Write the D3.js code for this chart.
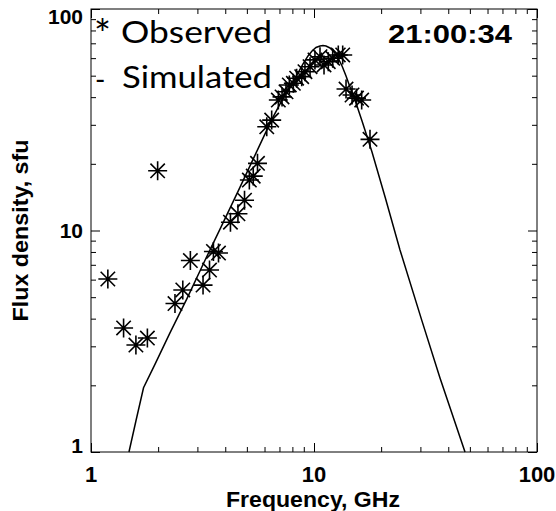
<!DOCTYPE html>
<html>
<head>
<meta charset="utf-8">
<script src="https://cdn.jsdelivr.net/npm/d3@7"></script>
<style>
  html, body { margin: 0; padding: 0; background: #fff; }
  svg { display: block; }
</style>
</head>
<body>
<script>
// Observed radio spectrum (frequency in GHz, flux density in sfu)
const obsFreq = [1.19, 1.40, 1.59, 1.79, 1.99, 2.38, 2.58, 2.79, 3.18, 3.40, 3.54, 3.73,
  4.22, 4.56, 4.88, 5.13, 5.34, 5.58, 6.14, 6.46, 6.92, 7.19, 7.49, 7.75, 8.08, 8.36,
  8.81, 9.11, 9.60, 10.10, 10.64, 11.09, 11.59, 12.13, 12.85, 13.45, 13.92, 14.81,
  15.51, 16.36, 17.83];
const obsFlux = [6.04, 3.63, 3.04, 3.27, 18.6, 4.68, 5.39, 7.32, 5.67, 6.63, 8.04, 7.91,
  10.9, 11.9, 13.7, 16.9, 17.6, 20.1, 29.4, 31.5, 38.8, 40.1, 42.3, 45.4, 46.2, 48.7,
  49.5, 52.1, 54.9, 58.9, 60.9, 55.9, 57.8, 59.9, 62.0, 62.0, 43.5, 40.9,
  39.6, 38.8, 25.8];

// Simulated gyrosynchrotron spectrum
const simFreq = [1.48, 1.59, 1.72, 1.94, 2.26, 2.69, 3.25, 3.87, 4.66, 5.44, 6.03, 6.55,
  7.19, 7.81, 8.39, 8.93, 9.40, 9.80, 10.21, 10.64, 10.97, 11.32, 11.80, 12.29, 12.81,
  13.36, 13.92, 14.50, 15.27, 16.42, 18.20, 20.82, 24.30, 30.41, 36.73, 47.55];
const simFlux = [1.00, 1.38, 1.95, 2.50, 3.45, 4.91, 7.36, 10.6, 15.7, 21.9, 27.3, 32.5,
  38.8, 44.5, 50.4, 56.5, 61.4, 64.6, 67.0, 68.1, 68.4, 68.1, 66.7, 64.0, 60.1,
  55.3, 49.8, 44.5, 38.8, 31.2, 22.6, 14.2, 8.17, 3.94, 2.16, 1.00];

const majorTicks = [1, 10, 100];
const minorTicks = [2, 3, 4, 5, 6, 7, 8, 9, 20, 30, 40, 50, 60, 70, 80, 90];
const tickLabels = ["1", "10", "100"];

const W = 556, H = 511;
const L = 91, R = 537, T = 9, B = 452;

const svg = d3.select("body").append("svg").attr("width", W).attr("height", H);

const x = d3.scaleLog().domain([1, 100]).range([L, R]);
const y = d3.scaleLog().domain([1, 100]).range([B, T]);

const idlFont = "'Liberation Sans', Arial, Helvetica, sans-serif";

// Frame and inward-pointing ticks on all four sides
const axes = svg.append("g").attr("class", "axes");
function addAxis(gen, tx, ty, values, size) {
  const g = axes.append("g").attr("transform", `translate(${tx},${ty})`)
    .call(gen.tickValues(values).tickSize(size).tickFormat(""));
  g.select(".domain").remove();
  g.selectAll("line").attr("stroke", "#000").attr("stroke-width", 1);
}
[[majorTicks, 9], [minorTicks, 5]].forEach(([vals, len]) => {
  addAxis(d3.axisBottom(x), 0, B, vals, -len);
  addAxis(d3.axisTop(x), 0, T, vals, -len);
  addAxis(d3.axisLeft(y), L, 0, vals, -len);
  addAxis(d3.axisRight(y), R, 0, vals, -len);
});
axes.append("rect")
  .attr("x", L).attr("y", T).attr("width", R - L).attr("height", B - T)
  .attr("fill", "none").attr("stroke", "#000").attr("stroke-width", 1);

// Tick labels
svg.append("g").selectAll("text").data(majorTicks).join("text")
  .attr("x", d => x(d)).attr("y", 482)
  .attr("text-anchor", "middle")
  .attr("font-family", idlFont).attr("font-weight", "bold").attr("font-size", 22)
  .text((d, i) => tickLabels[i]);

svg.append("g").selectAll("text").data(majorTicks).join("text")
  .attr("x", 83)
  .attr("y", d => Math.min(Math.max(y(d), T + 7), B - 7))
  .attr("dy", "0.36em")
  .attr("text-anchor", "end")
  .attr("font-family", idlFont).attr("font-weight", "bold").attr("font-size", 21)
  .text((d, i) => tickLabels[i]);

// Axis titles
svg.append("text")
  .attr("x", (L + R) / 2 - 1).attr("y", 507)
  .attr("text-anchor", "middle")
  .attr("font-family", idlFont).attr("font-weight", "bold").attr("font-size", 22)
  .attr("textLength", 174).attr("lengthAdjust", "spacingAndGlyphs")
  .text("Frequency, GHz");

svg.append("text")
  .attr("transform", `translate(28,${(T + B) / 2}) rotate(-90)`)
  .attr("text-anchor", "middle")
  .attr("font-family", idlFont).attr("font-weight", "bold").attr("font-size", 22)
  .attr("textLength", 182).attr("lengthAdjust", "spacingAndGlyphs")
  .text("Flux density, sfu");

// Simulated curve
const line = d3.line().x((d, i) => x(simFreq[i])).y((d, i) => y(simFlux[i]));
svg.append("path")
  .datum(simFreq)
  .attr("d", line)
  .attr("fill", "none").attr("stroke", "#000").attr("stroke-width", 1.5);

// Observed points as asterisks
const r = 9.5, rd = 7.2;
const star = `M${-r},0L${r},0M0,${-r}L0,${r}M${-rd},${-rd}L${rd},${rd}M${-rd},${rd}L${rd},${-rd}`;
svg.append("g").selectAll("path").data(obsFreq).join("path")
  .attr("transform", (d, i) => `translate(${x(d)},${y(obsFlux[i])})`)
  .attr("d", star)
  .attr("fill", "none").attr("stroke", "#000").attr("stroke-width", 1.6);

// Legend and timestamp
const legendFont = "Lato, 'Open Sans', sans-serif";
svg.append("text").attr("x", 94).attr("y", 49)
  .attr("font-family", legendFont).attr("font-size", 40)
  .text("*");
svg.append("text").attr("x", 121).attr("y", 43)
  .attr("font-family", legendFont).attr("font-size", 31)
  .attr("textLength", 151).attr("lengthAdjust", "spacingAndGlyphs")
  .text("Observed");
svg.append("text").attr("x", 95).attr("y", 90)
  .attr("font-family", legendFont).attr("font-size", 28)
  .text("-");
svg.append("text").attr("x", 122).attr("y", 88)
  .attr("font-family", legendFont).attr("font-size", 31)
  .attr("textLength", 150).attr("lengthAdjust", "spacingAndGlyphs")
  .text("Simulated");

svg.append("text").attr("x", 388).attr("y", 43)
  .attr("font-family", idlFont).attr("font-weight", "bold").attr("font-size", 25)
  .attr("textLength", 124).attr("lengthAdjust", "spacingAndGlyphs")
  .text("21:00:34");
</script>
</body>
</html>
